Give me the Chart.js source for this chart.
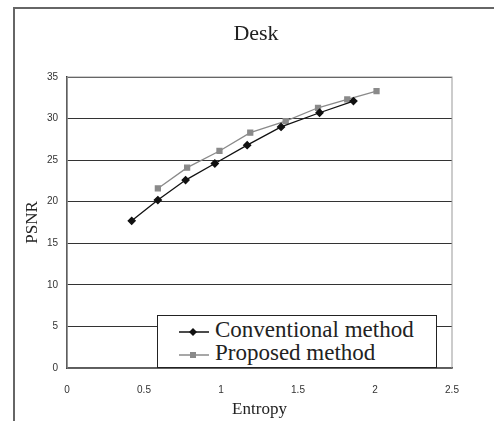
<!DOCTYPE html>
<html lang="en">
<head>
    <meta charset="UTF-8">
    <title>Desk</title>
    <script src="https://cdn.jsdelivr.net/npm/chart.js"></script>
    <style>
        body {
            margin: 0;
            padding: 0;
            background: #fff;
        }
        .wrap {
            position: relative;
            width: 494px;
            height: 421px;
            overflow: hidden;
        }
        .frame {
            position: absolute;
            left: 13px;
            top: 7px;
            width: 500px;
            height: 430px;
            border: 2px solid #666;
        }
        canvas {
            position: absolute;
            left: 0;
            top: 0;
        }
        .title {
            position: absolute;
            left: 156px;
            width: 200px;
            top: 20px;
            text-align: center;
            font-family: 'Liberation Serif', 'DejaVu Serif', serif;
            font-size: 22px;
            line-height: 26px;
            color: #222;
        }
        .legend {
            position: absolute;
            left: 157px;
            top: 315px;
            width: 278px;
            height: 51px;
            background: #fff;
            border: 1px solid #222;
            font-family: 'Liberation Serif', 'DejaVu Serif', serif;
            font-size: 23px;
            color: #222;
        }
        .legend .row {
            position: absolute;
            left: 21px;
            height: 24px;
            line-height: 24px;
            white-space: nowrap;
        }
        .legend svg {
            vertical-align: middle;
            margin-right: 6px;
        }
    </style>
</head>
<body>
    <div class="wrap">
        <div class="frame"></div>
        <canvas id="chart" width="494" height="421"></canvas>
        <div class="title">Desk</div>
        <div class="legend">
            <div class="row" style="top:2px;">
                <svg width="30" height="12"><line x1="0" y1="6" x2="30" y2="6" stroke="#111" stroke-width="1.5"/><polygon points="14,2 18,6 14,10 10,6" fill="#111"/></svg>Conventional method
            </div>
            <div class="row" style="top:25px;">
                <svg width="30" height="12"><line x1="0" y1="6" x2="30" y2="6" stroke="#8a8a8a" stroke-width="1.5"/><rect x="11" y="3" width="6" height="6" fill="#8a8a8a"/></svg>Proposed method
            </div>
        </div>
    </div>

    <script>
        // values
        const convEntropy = [0.42, 0.59, 0.77, 0.96, 1.17, 1.39, 1.64, 1.86];
        const convPsnr = [17.7, 20.2, 22.6, 24.6, 26.8, 29.0, 30.7, 32.1];
        const propEntropy = [0.59, 0.78, 0.99, 1.19, 1.42, 1.63, 1.82, 2.01];
        const propPsnr = [21.6, 24.1, 26.1, 28.3, 29.7, 31.3, 32.3, 33.3];
        const xTicks = [0, 0.5, 1, 1.5, 2, 2.5];
        const yTicks = [0, 5, 10, 15, 20, 25, 30, 35];

        function toPoints(xs, ys) {
            return xs.map((x, i) => ({ x: x, y: ys[i] }));
        }

        // grey box around the plot area
        const plotFrame = {
            id: 'plotFrame',
            beforeDatasetsDraw(chart) {
                const a = chart.chartArea;
                const ctx = chart.ctx;
                ctx.save();
                ctx.strokeStyle = '#999';
                ctx.lineWidth = 1;
                ctx.strokeRect(a.left, a.top, a.right - a.left, a.bottom - a.top);
                ctx.restore();
            }
        };

        const serif = "'Liberation Serif', 'DejaVu Serif', serif";
        const sans = "'Liberation Sans', Arial, sans-serif";

        new Chart(document.getElementById('chart'), {
            type: 'scatter',
            data: {
                datasets: [{
                    label: 'Conventional method',
                    data: toPoints(convEntropy, convPsnr),
                    showLine: true,
                    borderColor: '#111',
                    backgroundColor: '#111',
                    borderWidth: 1.3,
                    pointStyle: 'rectRot',
                    pointRadius: 3.5,
                    pointHoverRadius: 3.5
                }, {
                    label: 'Proposed method',
                    data: toPoints(propEntropy, propPsnr),
                    showLine: true,
                    borderColor: '#8a8a8a',
                    backgroundColor: '#8a8a8a',
                    borderWidth: 1.3,
                    pointStyle: 'rect',
                    pointRadius: 3.5,
                    pointHoverRadius: 3.5
                }]
            },
            options: {
                responsive: false,
                animation: false,
                layout: { padding: { left: 0, top: 77, right: 42, bottom: 0 } },
                plugins: {
                    legend: { display: false },
                    tooltip: { enabled: false },
                    title: { display: false }
                },
                scales: {
                    x: {
                        type: 'linear',
                        min: 0,
                        max: 2.5,
                        afterBuildTicks: (scale) => { scale.ticks = xTicks.map(v => ({ value: v })); },
                        afterFit: (scale) => { scale.height = 53; },
                        grid: { display: false },
                        border: { display: true, color: '#222', width: 1.5 },
                        ticks: {
                            color: '#333',
                            padding: 8,
                            font: { family: sans, size: 10 },
                            maxRotation: 0,
                            callback: (v) => String(v)
                        },
                        title: {
                            display: true,
                            text: 'Entropy',
                            color: '#222',
                            font: { family: serif, size: 17 },
                            padding: { top: 0, bottom: 1 }
                        }
                    },
                    y: {
                        type: 'linear',
                        min: 0,
                        max: 35,
                        afterBuildTicks: (scale) => { scale.ticks = yTicks.map(v => ({ value: v })); },
                        afterFit: (scale) => { scale.width = 67; },
                        grid: { color: '#333', lineWidth: 1, drawTicks: false },
                        border: { display: true, color: '#222', width: 1.5 },
                        ticks: {
                            color: '#333',
                            padding: 9,
                            font: { family: sans, size: 10 },
                            callback: (v) => String(v)
                        },
                        title: {
                            display: true,
                            text: 'PSNR',
                            color: '#222',
                            font: { family: serif, size: 17 },
                            padding: { top: 22, bottom: 0 }
                        }
                    }
                }
            },
            plugins: [plotFrame]
        });
    </script>
</body>
</html>
